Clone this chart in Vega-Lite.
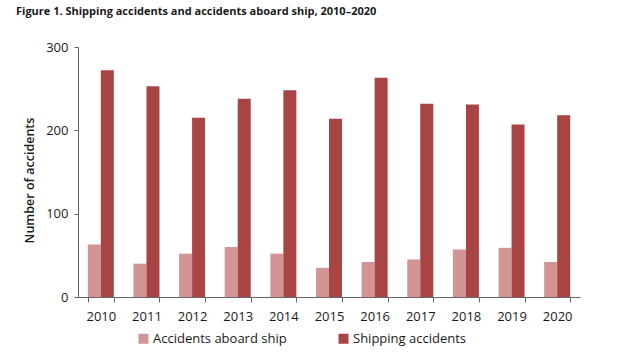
{
  "$schema": "https://vega.github.io/schema/vega-lite/v6.json",
  "width": 502,
  "height": 250,
  "autosize": {"type": "none"},
  "padding": {"left": 78, "top": 47, "right": 60, "bottom": 57},
  "background": "white",
  "title": {
    "text": "Figure 1. Shipping accidents and accidents aboard ship, 2010–2020",
    "anchor": "start",
    "frame": "group",
    "dx": -62,
    "offset": 24,
    "font": "Open Sans",
    "fontSize": 11,
    "fontWeight": "bold",
    "color": "#1a1a1a"
  },
  "data": {
    "values": [
      {"year": "2010", "type": "Accidents aboard ship", "value": 63},
      {"year": "2010", "type": "Shipping accidents", "value": 272},
      {"year": "2011", "type": "Accidents aboard ship", "value": 40},
      {"year": "2011", "type": "Shipping accidents", "value": 253},
      {"year": "2012", "type": "Accidents aboard ship", "value": 52},
      {"year": "2012", "type": "Shipping accidents", "value": 215},
      {"year": "2013", "type": "Accidents aboard ship", "value": 60},
      {"year": "2013", "type": "Shipping accidents", "value": 238},
      {"year": "2014", "type": "Accidents aboard ship", "value": 52},
      {"year": "2014", "type": "Shipping accidents", "value": 248},
      {"year": "2015", "type": "Accidents aboard ship", "value": 35},
      {"year": "2015", "type": "Shipping accidents", "value": 214},
      {"year": "2016", "type": "Accidents aboard ship", "value": 42},
      {"year": "2016", "type": "Shipping accidents", "value": 263},
      {"year": "2017", "type": "Accidents aboard ship", "value": 45},
      {"year": "2017", "type": "Shipping accidents", "value": 232},
      {"year": "2018", "type": "Accidents aboard ship", "value": 57},
      {"year": "2018", "type": "Shipping accidents", "value": 231},
      {"year": "2019", "type": "Accidents aboard ship", "value": 59},
      {"year": "2019", "type": "Shipping accidents", "value": 207},
      {"year": "2020", "type": "Accidents aboard ship", "value": 42},
      {"year": "2020", "type": "Shipping accidents", "value": 218}
    ]
  },
  "mark": {"type": "bar"},
  "encoding": {
    "x": {
      "field": "year",
      "type": "nominal",
      "scale": {"paddingInner": 0.43, "paddingOuter": 0.215},
      "axis": {
        "title": null,
        "labelAngle": 0,
        "tickBand": "extent",
        "labelFont": "Open Sans",
        "labelFontSize": 13,
        "labelColor": "#1a1a1a",
        "labelPadding": 8,
        "tickSize": 5,
        "tickColor": "#666666",
        "domainColor": "#666666"
      }
    },
    "xOffset": {"field": "type", "type": "nominal", "scale": {"paddingInner": 0}},
    "y": {
      "field": "value",
      "type": "quantitative",
      "scale": {"domain": [0, 300]},
      "axis": {
        "title": "Number of accidents",
        "titleFont": "Open Sans",
        "titleFontSize": 12.5,
        "titleFontWeight": 600,
        "titleColor": "#1a1a1a",
        "titlePadding": 9,
        "titleY": 133,
        "values": [0, 100, 200, 300],
        "grid": false,
        "labelFont": "Open Sans",
        "labelFontSize": 13,
        "labelColor": "#1a1a1a",
        "labelPadding": 6,
        "tickSize": 4,
        "tickColor": "#666666",
        "domainColor": "#666666"
      }
    },
    "color": {
      "field": "type",
      "type": "nominal",
      "scale": {
        "domain": ["Accidents aboard ship", "Shipping accidents"],
        "range": ["#d39494", "#a84444"]
      },
      "legend": {
        "title": null,
        "orient": "none",
        "direction": "horizontal",
        "legendX": 59,
        "legendY": 285,
        "symbolType": "square",
        "symbolSize": 100,
        "symbolStrokeWidth": 0,
        "labelFont": "Open Sans",
        "labelFontSize": 13,
        "labelColor": "#1a1a1a",
        "labelOffset": 3,
        "columnPadding": 50,
        "labelLimit": 300
      }
    }
  },
  "config": {"view": {"stroke": null}}
}
